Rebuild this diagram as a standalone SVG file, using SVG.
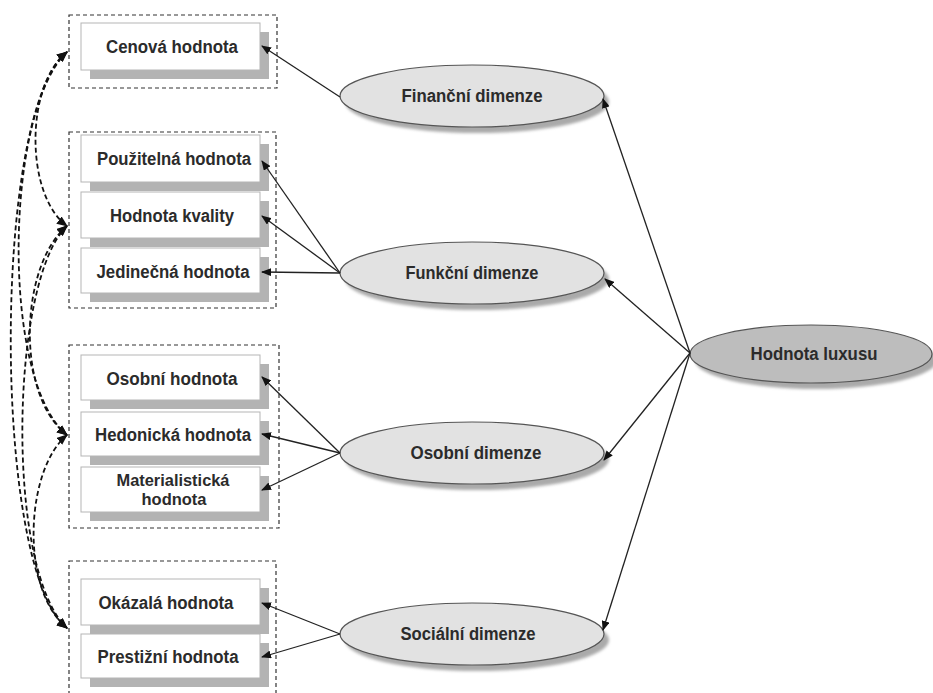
<svg xmlns="http://www.w3.org/2000/svg" width="933" height="693" viewBox="0 0 933 693">
<defs>
<style>
.grp{fill:none;stroke:#333;stroke-width:1.2;stroke-dasharray:4 3}
.box{fill:#fff;stroke:#b5b5b5;stroke-width:1}
.shd{fill:#b3b3b3}
.ell{fill:#e2e2e2;stroke:#555;stroke-width:1.2}
.esh{fill:#aaa;filter:url(#blur)}
.lux{fill:#bdbdbd;stroke:#555;stroke-width:1.2}
text{font-family:"Liberation Sans",Arial,sans-serif;font-weight:bold;font-size:18px;fill:#2b2b2b;text-anchor:middle}
.sm{font-size:17px}
.con line{stroke:#222;stroke-width:1.3;marker-end:url(#ah)}
.dsh path{fill:none;stroke:#111;stroke-width:1.8;stroke-dasharray:5 3;marker-start:url(#dh);marker-end:url(#dh)}
</style>
<filter id="blur" x="-10%" y="-20%" width="120%" height="140%"><feGaussianBlur stdDeviation="1.5"/></filter>
<marker id="ah" markerUnits="userSpaceOnUse" markerWidth="10" markerHeight="8" refX="9" refY="4" orient="auto"><path d="M0,0 L10,4 L0,8 Z" fill="#111"/></marker>
<marker id="dh" markerUnits="userSpaceOnUse" markerWidth="11" markerHeight="9" refX="10" refY="4.5" orient="auto-start-reverse"><path d="M0,0 L11,4.5 L0,9 Z" fill="#111"/></marker>
</defs>
<rect width="933" height="693" fill="#fff"/>

<g id="group-financni">
<rect class="grp" x="69" y="15" width="208" height="73"/>
</g>
<g id="group-funkcni">
<rect class="grp" x="69" y="132" width="207" height="176"/>
</g>
<g id="group-osobni">
<rect class="grp" x="69" y="345" width="210" height="183"/>
</g>
<g id="group-socialni">
<rect class="grp" x="69" y="561" width="207" height="140"/>
</g>

<g id="cenova">
<rect class="shd" x="90" y="32" width="179" height="47"/>
<rect class="box" x="81" y="23" width="179" height="47"/>
<text x="172" y="53" textLength="132" lengthAdjust="spacingAndGlyphs">Cenová hodnota</text>
</g>
<g id="pouzitelna">
<rect class="shd" x="90" y="144" width="179" height="47"/>
<rect class="box" x="81" y="135" width="179" height="47"/>
<text x="174" y="165" textLength="154" lengthAdjust="spacingAndGlyphs">Použitelná hodnota</text>
</g>
<g id="kvalita">
<rect class="shd" x="90" y="201" width="179" height="46"/>
<rect class="box" x="81" y="192" width="179" height="46"/>
<text x="172" y="222" textLength="124" lengthAdjust="spacingAndGlyphs">Hodnota kvality</text>
</g>
<g id="jedinecna">
<rect class="shd" x="90" y="257" width="179" height="45"/>
<rect class="box" x="81" y="248" width="179" height="45"/>
<text x="173" y="278" textLength="153" lengthAdjust="spacingAndGlyphs">Jedinečná hodnota</text>
</g>
<g id="osobni-hodnota">
<rect class="shd" x="90" y="364" width="179" height="45"/>
<rect class="box" x="81" y="355" width="179" height="45"/>
<text x="172" y="385" textLength="131" lengthAdjust="spacingAndGlyphs">Osobní hodnota</text>
</g>
<g id="hedonicka">
<rect class="shd" x="90" y="421" width="179" height="44"/>
<rect class="box" x="81" y="412" width="179" height="44"/>
<text x="173" y="441" textLength="156" lengthAdjust="spacingAndGlyphs">Hedonická hodnota</text>
</g>
<g id="materialisticka">
<rect class="shd" x="90" y="476" width="179" height="45"/>
<rect class="box" x="81" y="467" width="179" height="45"/>
<text class="sm" x="173" y="486" textLength="113" lengthAdjust="spacingAndGlyphs">Materialistická</text>
<text class="sm" x="174" y="505" textLength="65" lengthAdjust="spacingAndGlyphs">hodnota</text>
</g>
<g id="okazala">
<rect class="shd" x="90" y="588" width="179" height="46"/>
<rect class="box" x="81" y="579" width="179" height="46"/>
<text x="166" y="609" textLength="135" lengthAdjust="spacingAndGlyphs">Okázalá hodnota</text>
</g>
<g id="prestizni">
<rect class="shd" x="90" y="643" width="179" height="44"/>
<rect class="box" x="81" y="634" width="179" height="44"/>
<text x="168" y="663" textLength="141" lengthAdjust="spacingAndGlyphs">Prestižní hodnota</text>
</g>

<g id="financni-dimenze">
<ellipse class="esh" cx="477" cy="102" rx="132" ry="31"/>
<ellipse class="ell" cx="472" cy="96" rx="132" ry="31"/>
<text x="472" y="102" textLength="141" lengthAdjust="spacingAndGlyphs">Finanční dimenze</text>
</g>
<g id="funkcni-dimenze">
<ellipse class="esh" cx="477" cy="279" rx="132" ry="31"/>
<ellipse class="ell" cx="472" cy="273" rx="132" ry="31"/>
<text x="472" y="279" textLength="133" lengthAdjust="spacingAndGlyphs">Funkční dimenze</text>
</g>
<g id="osobni-dimenze">
<ellipse class="esh" cx="477" cy="459" rx="132" ry="31"/>
<ellipse class="ell" cx="472" cy="453" rx="132" ry="31"/>
<text x="476" y="459" textLength="131" lengthAdjust="spacingAndGlyphs">Osobní dimenze</text>
</g>
<g id="socialni-dimenze">
<ellipse class="esh" cx="477" cy="640" rx="132" ry="31"/>
<ellipse class="ell" cx="472" cy="634" rx="132" ry="31"/>
<text x="468" y="640" textLength="135" lengthAdjust="spacingAndGlyphs">Sociální dimenze</text>
</g>
<g id="hodnota-luxusu">
<ellipse class="esh" cx="816" cy="360" rx="121" ry="29"/>
<ellipse class="lux" cx="811" cy="354" rx="121" ry="29"/>
<text x="814" y="360" textLength="127" lengthAdjust="spacingAndGlyphs">Hodnota luxusu</text>
</g>

<g id="connectors" class="con">
<line x1="690" y1="353" x2="603" y2="99"/>
<line x1="690" y1="353" x2="605" y2="279"/>
<line x1="690" y1="353" x2="604" y2="460"/>
<line x1="690" y1="353" x2="603" y2="630"/>
<line x1="340" y1="97" x2="262" y2="46"/>
<line x1="340" y1="273" x2="262" y2="161"/>
<line x1="340" y1="273" x2="262" y2="216"/>
<line x1="340" y1="273" x2="262" y2="272"/>
<line x1="340" y1="453" x2="262" y2="377"/>
<line x1="340" y1="453" x2="262" y2="434"/>
<line x1="340" y1="453" x2="262" y2="490"/>
<line x1="340" y1="634" x2="262" y2="603"/>
<line x1="340" y1="634" x2="262" y2="657"/>
</g>

<g id="dashed-connectors" class="dsh">
<path d="M67,52 C-8,110 -8,570 67,628"/>
<path d="M67,52 C5,110 0,380 67,435"/>
<path d="M67,226 C10,280 5,570 67,628"/>
<path d="M67,52 C25,85 25,195 67,226"/>
<path d="M67,226 C20,265 15,395 67,435"/>
<path d="M67,435 C25,470 20,590 67,628"/>
</g>
</svg>
